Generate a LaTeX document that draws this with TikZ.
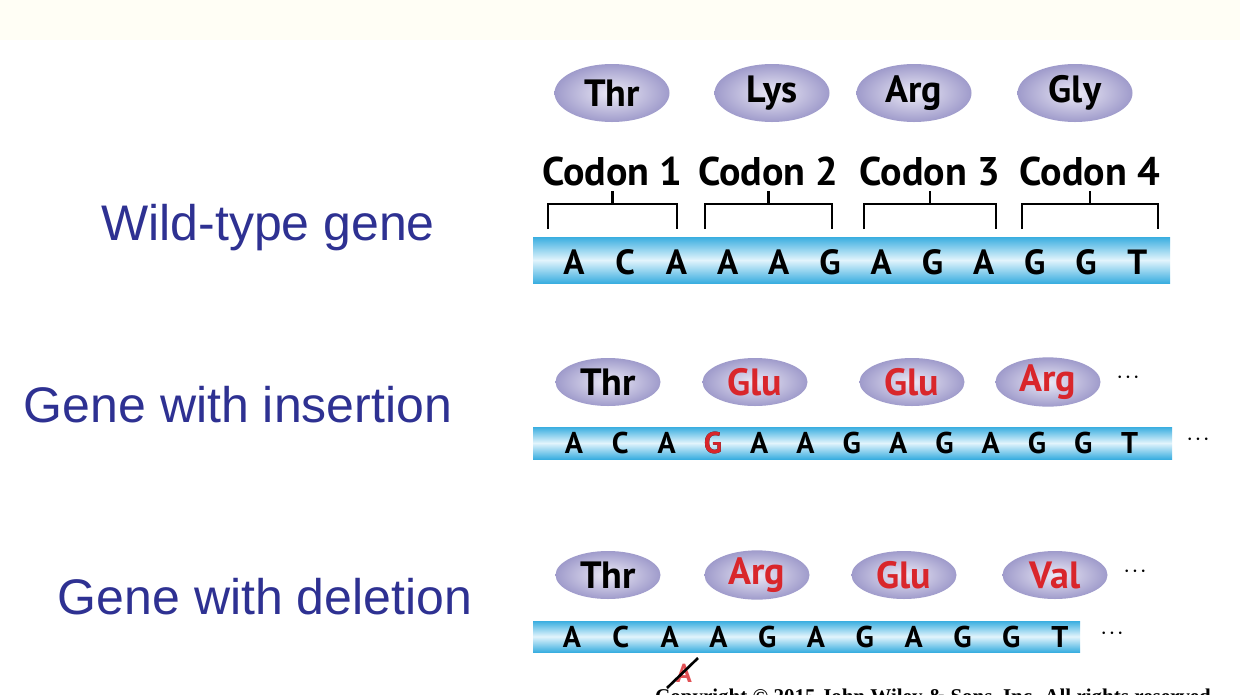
\documentclass[tikz,border=0pt]{standalone}
\usepackage{fontspec}
\setmainfont{Liberation Serif}
\newfontfamily\lab{Liberation Sans}
\newfontfamily\bio{PT Sans}
\usetikzlibrary{shapes.geometric}
\definecolor{navy}{HTML}{2E3192}
\definecolor{mred}{HTML}{D9262B}
\definecolor{bluedk}{HTML}{3AAEE0}
\definecolor{bluelt}{HTML}{E2F4FC}
\definecolor{lavin}{HTML}{ECEAF6}
\definecolor{lavout}{HTML}{9F9BCB}
\begin{document}
\begin{tikzpicture}[x=1pt,y=-1pt,
  rowlabel/.style={font=\lab\fontsize{50}{50}\selectfont,text=navy,anchor=center},
  aa/.style={ellipse,minimum width=#1,inner sep=0pt,inner color=lavin,outer color=lavout,font=\bio\bfseries\fontsize{38}{38}\selectfont},
  aa/.default=115,
  strip/.style={top color=bluedk,bottom color=bluedk,middle color=bluelt,draw=none},
  base/.style={font=\bio\bfseries\fontsize{35}{35}\selectfont,inner sep=0pt},
  sbase/.style={font=\bio\bfseries\fontsize{30}{30}\selectfont,inner sep=0pt},
  cod/.style={font=\bio\bfseries\fontsize{40}{40}\selectfont,inner sep=0pt},
  brk/.style={line width=2.6pt},
  dots/.style={font=\fontsize{52}{52}\selectfont,inner sep=0pt}]
\useasboundingbox[fill=white] (0,0) rectangle (1240,694);
\fill[color=white!96!yellow] (0,0) rectangle (1240,40);
% labels
\node[rowlabel] (l1) at (268,228) {Wild-type gene};
\node[rowlabel] (l2) at (238,405) {Gene with insertion};
\node[rowlabel] (l3) at (265,597) {Gene with deletion};
% wild type
\foreach \x/\t/\n in {612/Thr/a,772/Lys/b,914/Arg/c,1075/Gly/d}
  \node[aa,minimum height=58] (w\n) at (\x,93) {\t};
\foreach \a/\b/\n in {548/677/1,705/832/2,864/996/3,1022/1158/4}{
  \draw[brk] (\a,229) -- (\a,204) -- (\b,204) -- (\b,229);
  \draw[brk] ({(\a+\b)/2},204) -- ({(\a+\b)/2},191);
  \node[cod] (c\n) at ({(\a+\b)/2},171) {Codon \n};
}
\fill[strip] (533,237) rectangle (1170,283);
\foreach \t [count=\i] in {A,C,A,A,A,G,A,G,A,G,G,T}
  \node[base] (wb\i) at ({574+(\i-1)*51.2},262) {\t};
% insertion
\node[aa=105,minimum height=48] (ia) at (608,382) {Thr};
\foreach \x/\t/\n in {755/Glu/b,912/Glu/c,1048/Arg/d}
  \node[aa=105,minimum height=48,text=mred] (i\n) at (\x,382) {\t};
\node[dots] (idots) at (1128,378) {$\cdot\!\cdot\!\cdot$};
\fill[strip] (533,427) rectangle (1172,459);
\foreach \t [count=\i] in {A,C,A,G,A,A,G,A,G,A,G,G,T}
  \node[sbase] (ib\i) at ({574+(\i-1)*46.3},443) {\t};
\node[sbase,text=mred] at (ib4) {G};
\node[dots] (ibdots) at (1198,440) {$\cdot\!\cdot\!\cdot$};
% deletion
\node[aa=105,minimum height=48] (da) at (608,575) {Thr};
\foreach \x/\t/\n in {757/Arg/b,904/Glu/c,1055/Val/d}
  \node[aa=105,minimum height=48,text=mred] (d\n) at (\x,575) {\t};
\node[dots] (ddots) at (1135,572) {$\cdot\!\cdot\!\cdot$};
\fill[strip] (533,621) rectangle (1080,652);
\foreach \t [count=\i] in {A,C,A,A,G,A,G,A,G,G,T}
  \node[sbase] (db\i) at ({572+(\i-1)*48.8},637) {\t};
\node[dots] (dbdots) at (1112,634) {$\cdot\!\cdot\!\cdot$};
\node[inner sep=0pt,text=mred!80,font=\bio\bfseries\fontsize{26}{26}\selectfont] (del) at (684,673) {A};
\draw[line width=2.6pt] (667,688) -- (698,658);
% copyright
\node[anchor=west,inner sep=0pt,font=\bfseries\fontsize{21}{21}\selectfont] (copy) at (655,699) {Copyright \textcopyright\ 2015 John Wiley \& Sons, Inc. All rights reserved.};
\end{tikzpicture}
\end{document}
